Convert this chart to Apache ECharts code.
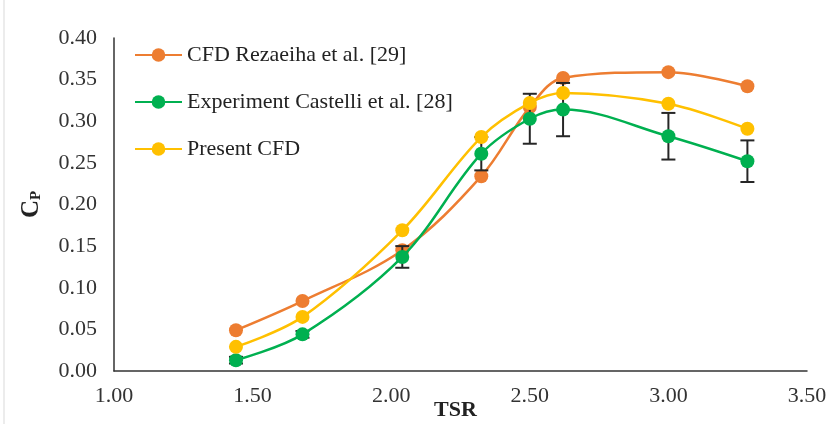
<!DOCTYPE html>
<html>
<head>
<meta charset="utf-8">
<script src="https://cdn.jsdelivr.net/npm/echarts@6/dist/echarts.min.js"></script>
<style>
  html, body { margin: 0; padding: 0; background: #fff; }
  #chart { width: 829px; height: 424px; }
</style>
</head>
<body>
<div id="chart"></div>
<script>
// TSR values
const tsr = [1.44, 1.68, 2.04, 2.325, 2.5, 2.62, 3.0, 3.285]
// Cp per series
const cfdRezaeiha = [0.049, 0.084, 0.145, 0.234, 0.317, 0.352, 0.359, 0.342]
const expCastelli = [0.013, 0.044, 0.137, 0.261, 0.303, 0.314, 0.282, 0.252]
const presentCfd = [0.029, 0.065, 0.169, 0.281, 0.322, 0.334, 0.321, 0.291]
// experiment error (+/-)
const expError = [0.004, 0.004, 0.013, 0.02, 0.03, 0.032, 0.028, 0.025]

const yTicks = [0, 0.05, 0.1, 0.15, 0.2, 0.25, 0.3, 0.35, 0.4]
const xTicks = [1, 1.5, 2, 2.5, 3, 3.5]

const chart = echarts.init(document.getElementById('chart'))

const font = 'Liberation Serif'
const pair = arr => tsr.map((x, i) => [x, arr[i]])
const errData = tsr.map((x, i) => [x, expCastelli[i] - expError[i], expCastelli[i] + expError[i]])

const lineSeries = (name, arr, color, z) => ({
  name,
  type: 'line',
  data: pair(arr),
  smooth: 0.35,
  symbol: 'circle',
  symbolSize: 14,
  z,
  lineStyle: { color, width: 2.5 },
  itemStyle: { color },
  emphasis: { disabled: true }
})

const opt = {
  animation: false,
  backgroundColor: '#fff',
  textStyle: { fontFamily: font },
  graphic: [{
    type: 'rect',
    shape: { x: 4, y: -2, width: 830, height: 430 },
    style: { fill: 'none', stroke: '#d9d9d9', lineWidth: 1 },
    silent: true
  }],
  legend: {
    orient: 'vertical',
    left: 134,
    top: 44,
    padding: 0,
    itemGap: 25,
    itemWidth: 47,
    itemHeight: 17,
    textStyle: { fontFamily: font, fontSize: 22, color: '#222' },
    data: ['CFD Rezaeiha et al. [29]', 'Experiment Castelli et al. [28]', 'Present CFD']
  },
  grid: { left: 114, right: 22, top: 38, bottom: 53, outerBoundsMode: 'none' },
  xAxis: {
    type: 'value',
    min: xTicks[0],
    max: xTicks[xTicks.length - 1],
    interval: 0.5,
    name: 'TSR',
    nameLocation: 'middle',
    nameGap: 28,
    nameMoveOverlap: false,
    nameTextStyle: { fontFamily: font, fontSize: 22, fontWeight: 'bold', color: '#222', padding: [0, 10, 0, 0] },
    axisLine: { lineStyle: { color: '#333', width: 1.5 } },
    axisTick: { show: false },
    splitLine: { show: false },
    axisLabel: { fontFamily: font, fontSize: 22, color: '#333', margin: 14, formatter: v => v.toFixed(2) }
  },
  yAxis: {
    type: 'value',
    min: yTicks[0],
    max: yTicks[yTicks.length - 1],
    interval: 0.05,
    name: '{c|C}{p|P}',
    nameLocation: 'middle',
    nameGap: 70,
    nameMoveOverlap: false,
    nameRotate: 90,
    nameTextStyle: {
      rich: {
        c: { fontFamily: font, fontSize: 25, fontWeight: 'bold', color: '#222' },
        p: { fontFamily: font, fontSize: 15, fontWeight: 'bold', color: '#222', verticalAlign: 'bottom', padding: [10, 0, 0, 0] }
      }
    },
    axisLine: { show: true, lineStyle: { color: '#333', width: 1.5 } },
    axisTick: { show: false },
    splitLine: { show: false },
    axisLabel: { fontFamily: font, fontSize: 22, color: '#333', margin: 17, formatter: v => v.toFixed(2) }
  },
  series: [
    lineSeries('CFD Rezaeiha et al. [29]', cfdRezaeiha, '#ed7d31', 2),
    {
      type: 'custom',
      z: 3,
      silent: true,
      data: errData,
      renderItem: (params, api) => {
        const lo = api.coord([api.value(0), api.value(1)])
        const hi = api.coord([api.value(0), api.value(2)])
        const w = 7
        const style = { stroke: '#262626', lineWidth: 2 }
        return {
          type: 'group',
          children: [
            { type: 'line', shape: { x1: lo[0], y1: lo[1], x2: hi[0], y2: hi[1] }, style },
            { type: 'line', shape: { x1: lo[0] - w, y1: lo[1], x2: lo[0] + w, y2: lo[1] }, style },
            { type: 'line', shape: { x1: hi[0] - w, y1: hi[1], x2: hi[0] + w, y2: hi[1] }, style }
          ]
        }
      }
    },
    lineSeries('Experiment Castelli et al. [28]', expCastelli, '#00b050', 4),
    lineSeries('Present CFD', presentCfd, '#ffc000', 5)
  ]
}

chart.setOption(opt)
</script>
</body>
</html>
